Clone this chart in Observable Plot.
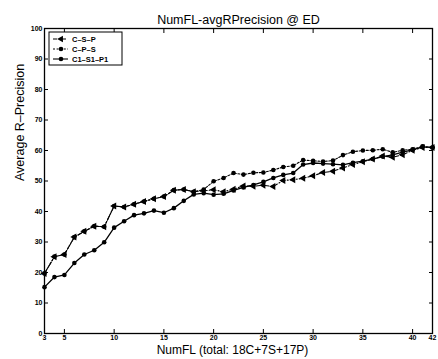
<!DOCTYPE html>
<html><head><meta charset="utf-8">
<script src="https://cdn.jsdelivr.net/npm/d3@7"></script>
<script src="https://cdn.jsdelivr.net/npm/@observablehq/plot@0.6"></script>
<style>body{margin:0;background:#fff;} #chart{width:438px;height:359px;}</style>
</head><body><div id="chart"></div>
<script>
const numFL = [3,4,5,6,7,8,9,10,11,12,13,14,15,16,17,18,19,20,21,22,23,24,25,26,27,28,29,30,31,32,33,34,35,36,37,38,39,40,41,42];
const seriesNames = ["C\u2013S\u2013P", "C\u2013P\u2013S", "C1\u2013S1\u2013P1"];
const cSP = [19.7,25.2,25.9,31.6,33.5,35.2,35.0,41.8,41.5,42.4,43.3,44.2,44.9,47.0,47.2,46.5,46.8,47.1,46.5,47.3,48.4,48.3,48.6,48.2,50.2,50.4,50.9,51.7,52.8,53.2,54.3,55.4,56.3,57.2,58.2,57.8,58.6,60.1,61.0,61.0];
const cPS = [19.7,25.2,25.9,31.6,33.5,35.2,35.0,41.8,41.5,42.4,43.3,44.2,44.9,47.0,47.2,46.5,47.2,49.9,51.0,52.6,52.1,52.7,52.8,53.6,54.6,55.0,56.9,56.6,56.4,56.7,58.5,59.6,60.0,60.1,60.4,59.4,60.1,60.4,61.4,61.0];
const c1S1P1 = [15.2,18.5,19.2,23.1,25.9,27.3,29.9,34.7,36.8,38.8,39.4,40.3,39.6,41.1,43.5,45.6,46.0,45.5,45.8,46.9,47.9,48.7,49.7,51.0,52.0,52.6,55.4,55.9,55.7,55.5,55.3,56.0,56.5,57.2,58.0,58.6,59.5,60.2,61.2,61.0];
const xTicks = [3,5,10,15,20,25,30,35,40,42];
const yTicks = [0,10,20,30,40,50,60,70,80,90,100];
const titleText = "NumFL-avgRPrecision @ ED";
const xLabel = "NumFL (total: 18C+7S+17P)";
const yLabel = "Average R\u2013Precision";

const rows = (vals, s) => numFL.map((n, i) => ({n, v: vals[i], s}));
const dSP = rows(cSP, seriesNames[0]);
const dPS = rows(cPS, seriesNames[1]);
const d1 = rows(c1S1P1, seriesNames[2]);

const styles = [
  {dash: "4,2,1,2", symbol: "triangle", r: 2.6, rotate: -90},
  {dash: "2,1.6", symbol: "circle", r: 2.3, rotate: 0},
  {dash: null, symbol: "circle", r: 2.3, rotate: 0}
];

const font = "'Liberation Sans', Arial, Helvetica, sans-serif";
const chart = Plot.plot({
  width: 438, height: 359,
  marginLeft: 44, marginRight: 6, marginTop: 28, marginBottom: 26,
  style: {fontFamily: font, fontSize: "8px", color: "#000", background: "#fff"},
  x: {domain: [3, 42]},
  y: {domain: [0, 100]},
  marks: [
    Plot.axisX({ticks: xTicks, tickSize: -4, tickPadding: 6, label: null, fontWeight: "bold", fontSize: 7}),
    Plot.axisX({ticks: xTicks, anchor: "top", tickSize: -4, fill: "none", label: null}),
    Plot.axisY({ticks: yTicks, tickSize: -4, tickPadding: 6, label: null, fontWeight: "bold", fontSize: 7}),
    Plot.axisY({ticks: yTicks, anchor: "right", tickSize: -4, fill: "none", label: null}),
    Plot.frame({stroke: "#000", strokeWidth: 1.3}),
    Plot.line(dSP, {x: "n", y: "v", stroke: "#000", strokeWidth: 1.1, strokeDasharray: styles[0].dash}),
    Plot.line(dPS, {x: "n", y: "v", stroke: "#000", strokeWidth: 1.1, strokeDasharray: styles[1].dash}),
    Plot.line(d1, {x: "n", y: "v", stroke: "#000", strokeWidth: 1.3}),
    Plot.dot(dSP, {x: "n", y: "v", symbol: "triangle", r: styles[0].r, rotate: -90, fill: "#000"}),
    Plot.dot(dPS, {x: "n", y: "v", symbol: "circle", r: styles[1].r, fill: "#000"}),
    Plot.dot(d1, {x: "n", y: "v", symbol: "circle", r: styles[2].r, fill: "#000"}),
    Plot.text([titleText], {frameAnchor: "top", dy: -13, fontSize: 12.5, fill: "#000"}),
    Plot.text([xLabel], {frameAnchor: "bottom", dx: -6, dy: 20, fontSize: 12, fill: "#000"}),
    Plot.text([yLabel], {frameAnchor: "left", dx: -25, dy: 0, rotate: -90, fontSize: 12.5, fill: "#000"})
  ]
});
document.getElementById("chart").append(chart);

// legend (inside plot, top-left)
const svg = d3.select(chart.tagName.toLowerCase() === "svg" ? chart : chart.querySelector("svg"));
const lg = svg.append("g").attr("transform", "translate(49,32)").attr("text-anchor", "start");
lg.append("rect").attr("width", 73).attr("height", 33).attr("fill", "#fff").attr("stroke", "#000").attr("stroke-width", 1);
const symTri = d3.symbol(d3.symbolTriangle, Math.PI * 2.6 * 2.6 * 0.9);
const symCirc = d3.symbol(d3.symbolCircle, Math.PI * 2.3 * 2.3);
seriesNames.forEach((name, i) => {
  const y = 7 + i * 10;
  const st = styles[i];
  const ln = lg.append("line").attr("x1", 4).attr("x2", 19).attr("y1", y).attr("y2", y)
    .attr("stroke", "#000").attr("stroke-width", 1.1);
  if (st.dash) ln.attr("stroke-dasharray", st.dash);
  lg.append("path").attr("d", (st.symbol === "triangle" ? symTri : symCirc)())
    .attr("transform", `translate(12,${y}) rotate(${st.rotate})`).attr("fill", "#000");
  lg.append("text").attr("x", 23).attr("y", y).attr("dy", "0.35em").attr("text-anchor", "start")
    .attr("font-size", 7.5).attr("font-weight", "bold").attr("font-family", font).text(name);
});
</script>
</body></html>
